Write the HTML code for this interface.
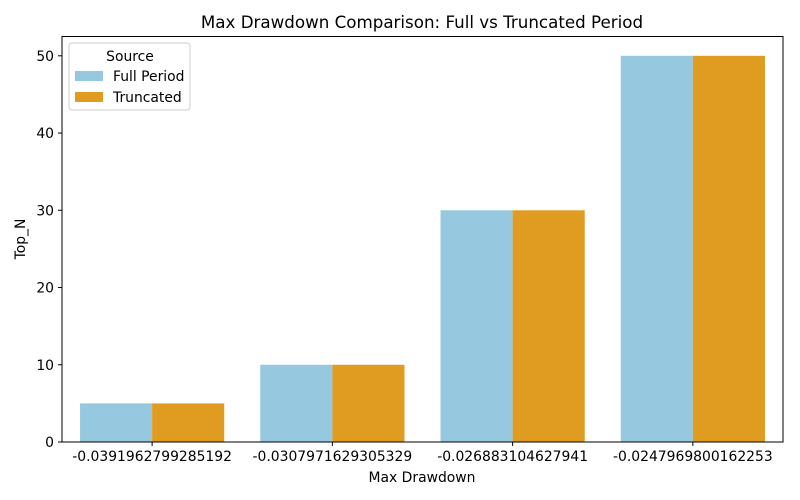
<!DOCTYPE html>
<html><head><meta charset="utf-8"><style>
html,body{margin:0;padding:0;background:#fff;overflow:hidden;}
svg{display:block;}
</style></head><body>
<svg width="800" height="500" xmlns="http://www.w3.org/2000/svg" font-family="DejaVu Sans, Liberation Sans, sans-serif">
<rect width="800" height="500" fill="#fff"/>
<text x="422" y="28" font-size="16.7" text-anchor="middle">Max Drawdown Comparison: Full vs Truncated Period</text>
<g id="bars"></g>
<g id="yticks"></g>
<g id="xticks"></g>
<rect x="62" y="36.5" width="721" height="405.5" fill="none" stroke="#000" stroke-width="1"/>
<text x="422" y="482" font-size="13.9" text-anchor="middle">Max Drawdown</text>
<text transform="translate(25,239) rotate(-90)" font-size="13.9" text-anchor="middle">Top_N</text>
<g>
<rect x="69" y="43" width="121" height="67" rx="3" fill="#fff" fill-opacity="0.8" stroke="#ccc"/>
<text x="130" y="61" font-size="13.9" text-anchor="middle">Source</text>
<rect x="75" y="71" width="28" height="10" fill="#96c9df"/>
<text x="113" y="81" font-size="13.9">Full Period</text>
<rect x="75" y="92" width="28" height="10" fill="#e09c21"/>
<text x="113" y="102" font-size="13.9">Truncated</text>
</g>
</svg>
<script>
const categories=["-0.0391962799285192","-0.0307971629305329","-0.026883104627941","-0.0247969800162253"];
const fullValues=[5,10,30,50];
const truncValues=[5,10,30,50];
const yTicks=[0,10,20,30,40,50];
const NS="http://www.w3.org/2000/svg";
const L=62,R=783,B=442,yMax=52.5,T=36.5;
const ys=v=>B-(v/yMax)*(B-T);
const band=(R-L)/categories.length;
const xc=i=>L+band*(i+0.5);
const bw=band*0.4;
const bars=document.getElementById('bars');
function mk(tag,attrs,parent){const e=document.createElementNS(NS,tag);for(const k in attrs)e.setAttribute(k,attrs[k]);parent.appendChild(e);return e;}
categories.forEach((c,i)=>{
 const a=mk('rect',{x:xc(i)-bw,y:ys(fullValues[i]),width:bw,height:B-ys(fullValues[i]),fill:'#96c9df'},bars);
 
 
 const b=mk('rect',{x:xc(i),y:ys(truncValues[i]),width:bw,height:B-ys(truncValues[i]),fill:'#e09c21'},bars);
 
 
 const xt=document.getElementById('xticks');
 mk('line',{x1:xc(i),x2:xc(i),y1:B,y2:B+4,stroke:'#000'},xt);
 const t=mk('text',{x:xc(i),y:B+19,'font-size':13.9,'text-anchor':'middle'},xt);
 t.textContent=c;
 
 
});
const yt=document.getElementById('yticks');
yTicks.forEach(v=>{
 mk('line',{x1:L-4,x2:L,y1:ys(v),y2:ys(v),stroke:'#000'},yt);
 const t=mk('text',{x:L-8,y:ys(v)+5,'font-size':13.9,'text-anchor':'end'},yt);
 t.textContent=v;
 
 
});
</script>
</body></html>
